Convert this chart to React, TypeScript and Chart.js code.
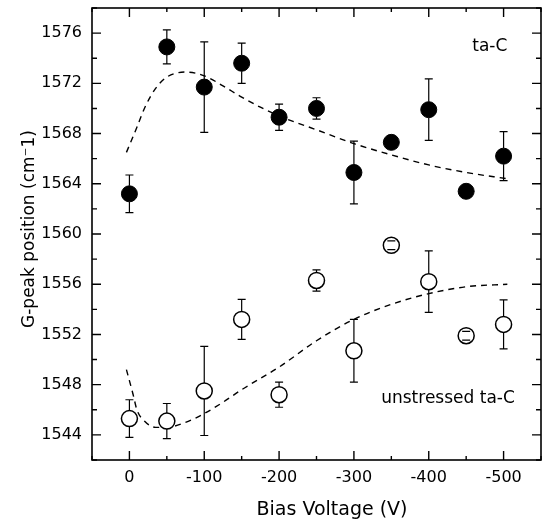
import React, { useEffect, useRef } from "react";
import { Chart, registerables } from "chart.js";

Chart.register(...registerables);

// ---- data ----
const biasVoltage = [0, -50, -100, -150, -200, -250, -300, -350, -400, -450, -500];

const taC = [1563.2, 1574.9, 1571.7, 1573.6, 1569.3, 1570.0, 1564.9, 1567.3, 1569.9, 1563.4, 1566.2];
const taCErr = [1.5, 1.35, 3.6, 1.6, 1.05, 0.85, 2.5, 0, 2.45, 0, 1.95];

const unstressed = [1545.3, 1545.1, 1547.5, 1553.2, 1547.2, 1556.3, 1550.7, 1559.1, 1556.2, 1551.9, 1552.8];
const unstressedErr = [1.5, 1.4, 3.55, 1.6, 1.0, 0.85, 2.5, 0.35, 2.45, 0.35, 1.95];

const taCFitV = [4, -10, -20, -35, -50, -75, -100, -125, -150, -175, -200, -250, -300, -350, -400, -450, -505];
const taCFit = [1566.5, 1568.5, 1570.0, 1571.6, 1572.5, 1572.9, 1572.6, 1571.8, 1570.9, 1570.1, 1569.4, 1568.3, 1567.2, 1566.3, 1565.5, 1564.9, 1564.4];

const unstressedFitV = [4, -5, -10, -20, -35, -50, -75, -100, -125, -150, -200, -250, -300, -350, -400, -450, -505];
const unstressedFit = [1549.2, 1547.2, 1546.0, 1545.1, 1544.6, 1544.6, 1545.0, 1545.7, 1546.6, 1547.6, 1549.4, 1551.5, 1553.2, 1554.4, 1555.25, 1555.8, 1556.0];

const xMin = -550;
const xMax = 50;
const yMin = 1542;
const yMax = 1578;

const labelTaC = "ta-C";
const labelUnstressed = "unstressed ta-C";
const xTitle = "Bias Voltage (V)";
const yTitle = "G-peak position (cm\u207B1)";

const FONT = "'DejaVu Sans', 'Liberation Sans', Arial, sans-serif";

const errorBarPlugin = {
  id: "errorBars",
  afterDatasetsDraw(chart: any) {
    const ctx = chart.ctx;
    const xs = chart.scales.x;
    const ys = chart.scales.y;
    chart.data.datasets.forEach((ds: any) => {
      if (!ds.errors) return;
      const r = ds.pointRadius;
      ctx.save();
      ctx.strokeStyle = "#000";
      ctx.lineWidth = 1.2;
      ds.data.forEach((p: any, i: number) => {
        const e = ds.errors[i];
        if (!e) return;
        const px = xs.getPixelForValue(p.x);
        const pc = ys.getPixelForValue(p.y);
        const pt = ys.getPixelForValue(p.y + e);
        const pb = ys.getPixelForValue(p.y - e);
        ctx.beginPath();
        if (pt < pc - r) {
          ctx.moveTo(px, pt);
          ctx.lineTo(px, pc - r);
        }
        if (pb > pc + r) {
          ctx.moveTo(px, pc + r);
          ctx.lineTo(px, pb);
        }
        ctx.moveTo(px - 4, pt);
        ctx.lineTo(px + 4, pt);
        ctx.moveTo(px - 4, pb);
        ctx.lineTo(px + 4, pb);
        ctx.stroke();
      });
      ctx.restore();
    });
  },
};

const framePlugin = {
  id: "frame",
  afterDraw(chart: any) {
    const ctx = chart.ctx;
    const { left, right, top, bottom } = chart.chartArea;
    const xs = chart.scales.x;
    const ys = chart.scales.y;
    ctx.save();
    ctx.strokeStyle = "#000";
    ctx.lineWidth = 1.6;
    ctx.strokeRect(left, top, right - left, bottom - top);
    ctx.lineWidth = 1.4;
    ctx.beginPath();
    xs.ticks.forEach((t: any) => {
      const v = t.value;
      if (v % 50 !== 0) return;
      const px = xs.getPixelForValue(v);
      const len = v % 100 === 0 ? 9 : 4;
      ctx.moveTo(px, bottom);
      ctx.lineTo(px, bottom - len);
      ctx.moveTo(px, top);
      ctx.lineTo(px, top + len);
    });
    ys.ticks.forEach((t: any) => {
      const v = t.value;
      if (v % 2 !== 0) return;
      const py = ys.getPixelForValue(v);
      const len = v % 4 === 0 ? 9 : 5;
      ctx.moveTo(left, py);
      ctx.lineTo(left + len, py);
      ctx.moveTo(right, py);
      ctx.lineTo(right - len, py);
    });
    ctx.stroke();

    ctx.fillStyle = "#000";
    ctx.font = `17px ${FONT}`;
    ctx.textAlign = "right";
    ctx.textBaseline = "middle";
    ctx.fillText(labelTaC, xs.getPixelForValue(-505), ys.getPixelForValue(1574.9));
    ctx.fillText(labelUnstressed, xs.getPixelForValue(-515), ys.getPixelForValue(1546.9));

    // axis titles
    ctx.textAlign = "center";
    ctx.font = `19px ${FONT}`;
    ctx.fillText(xTitle, 332, 510);
    ctx.save();
    ctx.translate(30, 229);
    ctx.rotate(-Math.PI / 2);
    ctx.font = `17px ${FONT}`;
    ctx.fillText(yTitle, 0, 0);
    ctx.restore();
    ctx.restore();
  },
};

const zeroPad = (s: any) => {
  s.paddingTop = 0;
  s.paddingBottom = 0;
  s.paddingLeft = 0;
  s.paddingRight = 0;
};

export default function App() {
  const canvasRef = useRef<HTMLCanvasElement | null>(null);

  useEffect(() => {
    const canvas = canvasRef.current;
    if (!canvas) return;
    const toPts = (xsArr: number[], ysArr: number[]) => xsArr.map((x, i) => ({ x, y: ysArr[i] }));

    const chart = new Chart(canvas, {
      type: "scatter",
      data: {
        datasets: [
          {
            label: "ta-C fit",
            data: toPts(taCFitV, taCFit),
            showLine: true,
            borderColor: "#000",
            borderWidth: 1.4,
            borderDash: [6, 5],
            pointRadius: 0,
            cubicInterpolationMode: "monotone",
            order: 3,
          } as any,
          {
            label: "unstressed ta-C fit",
            data: toPts(unstressedFitV, unstressedFit),
            showLine: true,
            borderColor: "#000",
            borderWidth: 1.4,
            borderDash: [6, 5],
            pointRadius: 0,
            cubicInterpolationMode: "monotone",
            order: 3,
          } as any,
          {
            label: "ta-C",
            data: toPts(biasVoltage, taC),
            errors: taCErr,
            pointRadius: 8,
            pointHoverRadius: 8,
            backgroundColor: "#000",
            borderColor: "#000",
            borderWidth: 1,
            order: 1,
          } as any,
          {
            label: "unstressed ta-C",
            data: toPts(biasVoltage, unstressed),
            errors: unstressedErr,
            pointRadius: 8,
            pointHoverRadius: 8,
            backgroundColor: "#fff",
            borderColor: "#000",
            borderWidth: 1.5,
            order: 1,
          } as any,
        ],
      },
      options: {
        animation: false,
        responsive: false,
        maintainAspectRatio: false,
        events: [],
        layout: { autoPadding: false, padding: { top: 8, right: 1, left: 0, bottom: 0 } },
        plugins: {
          legend: { display: false },
          tooltip: { enabled: false },
        },
        scales: {
          x: {
            type: "linear",
            reverse: true,
            min: xMin,
            max: xMax,
            grid: { display: false, drawTicks: false },
            border: { display: false },
            ticks: {
              stepSize: 50,
              autoSkip: false,
              maxRotation: 0,
              padding: 0,
              color: "#000",
              font: { family: FONT, size: 16, lineHeight: 2.25 },
              callback: (v: any) => (Number(v) % 100 === 0 ? String(v) : ""),
            },
            title: { display: false },
            afterFit: (s: any) => {
              s.height = 67;
              zeroPad(s);
            },
          },
          y: {
            type: "linear",
            min: yMin,
            max: yMax,
            grid: { display: false, drawTicks: false },
            border: { display: false },
            ticks: {
              stepSize: 2,
              autoSkip: false,
              padding: 10,
              color: "#000",
              font: { family: FONT, size: 16 },
              callback: (v: any) => (Number(v) % 4 === 0 ? String(v) : ""),
            },
            title: { display: false },
            afterFit: (s: any) => {
              s.width = 92;
              zeroPad(s);
            },
          },
        },
      },
      plugins: [errorBarPlugin, framePlugin],
    });
    return () => chart.destroy();
  }, []);

  return (
    <div style={{ position: "fixed", left: 0, top: 0, width: 542, height: 527, background: "#fff" }}>
      <canvas ref={canvasRef} width={542} height={527} style={{ width: 542, height: 527 }} />
    </div>
  );
}
